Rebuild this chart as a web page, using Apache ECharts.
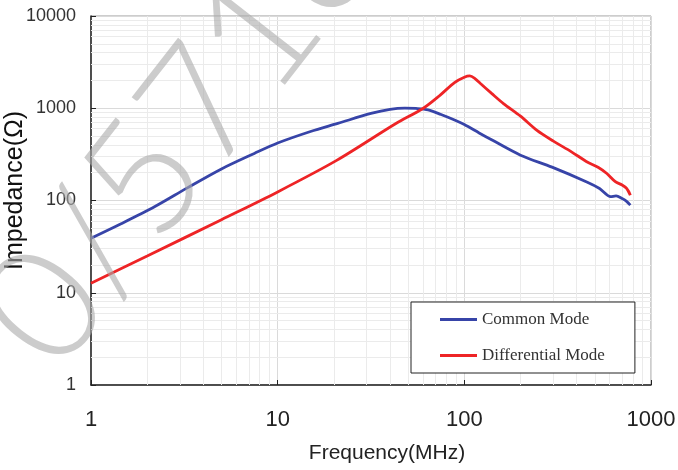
<!DOCTYPE html>
<html>
<head>
<meta charset="utf-8">
<script src="https://cdn.jsdelivr.net/npm/echarts@6/dist/echarts.min.js"></script>
<style>
  html, body { margin: 0; padding: 0; background: #fff; }
  #chart { width: 678px; height: 470px; }
</style>
</head>
<body>
<div id="chart"></div>
<script>
// frequency (MHz) / impedance (ohm)
const commonMode = [
  [1, 39], [1.45, 56], [2.2, 86], [3.3, 138], [5, 220], [7.5, 324], [10, 420],
  [15, 560], [21, 685], [31.6, 878], [40, 975], [48, 1005], [55, 995], [64, 960],
  [75, 855], [88, 750], [100, 665], [120, 540], [140, 455], [200, 310], [295, 230],
  [456, 158], [530, 135], [608, 110], [650, 112], [700, 105], [740, 98], [775, 89]
];
const diffMode = [
  [1, 12.7], [2, 25], [5, 62], [10, 124], [20.7, 272], [43, 683], [60, 994],
  [74, 1380], [88.6, 1900], [100, 2170], [107, 2240], [114, 2100], [122, 1853],
  [140, 1450], [162, 1125], [200, 820], [244, 579], [300, 440], [375, 337],
  [450, 265], [523, 228], [580, 196], [644, 160], [700, 147], [740, 135], [775, 114]
];
const xTickLabels = ['1', '10', '100', '1000'];
const yTickLabels = ['1', '10', '100', '1000', '10000'];
const minorX = [2, 3, 4, 5, 6, 7, 8, 9, 20, 30, 40, 50, 60, 70, 80, 90, 200, 300, 400, 500, 600, 700, 800, 900];
const minorY = [2, 3, 4, 5, 6, 7, 8, 9, 20, 30, 40, 50, 60, 70, 80, 90, 200, 300, 400, 500, 600, 700, 800, 900,
  2000, 3000, 4000, 5000, 6000, 7000, 8000, 9000];

const font = "'Liberation Sans', Arial, sans-serif";
const wmAngle = 52 * Math.PI / 180;
const mychart = echarts.init(document.getElementById('chart'));
mychart.setOption({
  animation: false,
  backgroundColor: '#fff',
  graphic: [
    {
      type: 'text', x: 17, y: 344, rotation: wmAngle, z: 100, silent: true,
      style: { text: '0/5716', fill: 'rgba(170,170,170,0.6)', font: '300 160px Lato, ' + font, textVerticalAlign: 'middle' }
    }
  ],
  grid: {
    left: 91, top: 16, right: 27, bottom: 85,
    outerBoundsMode: 'none',
    show: true, borderColor: '#9a9a9a', borderWidth: 1
  },
  legend: {
    data: ['Common Mode', 'Differential Mode'],
    orient: 'vertical',
    left: 411, top: 302, z: 10,
    backgroundColor: '#fff',
    borderColor: '#222', borderWidth: 1,
    padding: [9, 30, 9, 29],
    itemWidth: 37, itemHeight: 3, itemGap: 19,
    icon: 'rect',
    textStyle: { fontFamily: "'Liberation Serif', 'Times New Roman', serif", fontSize: 17, color: '#333' }
  },
  xAxis: {
    type: 'log', logBase: 10, min: 1, max: 1000,
    name: 'Frequency(MHz)', nameLocation: 'middle', nameGap: 58,
    nameTextStyle: { fontFamily: font, fontSize: 21, color: '#222', padding: [0, 0, 0, 32] },
    axisLine: { lineStyle: { color: '#222', width: 1.5 } },
    axisTick: { inside: true, length: 5, lineStyle: { color: '#222' } },
    axisLabel: {
      margin: 24, fontFamily: font, fontSize: 22, color: '#222',
      formatter: v => xTickLabels[Math.round(Math.log10(v))]
    },
    splitLine: { show: true, lineStyle: { color: '#dadada' } }
  },
  yAxis: {
    type: 'log', logBase: 10, min: 1, max: 10000,
    name: 'Impedance(Ω)', nameLocation: 'middle', nameGap: 63, nameMoveOverlap: false,
    nameTextStyle: { fontFamily: font, fontSize: 25, color: '#111', padding: [0, 0, 0, 20] },
    axisLine: { show: true, lineStyle: { color: '#222', width: 1.5 } },
    axisTick: { show: true, inside: true, length: 5, lineStyle: { color: '#222' } },
    axisLabel: {
      margin: 15, fontFamily: font, fontSize: 18, color: '#333',
      formatter: v => yTickLabels[Math.round(Math.log10(v))]
    },
    splitLine: { show: true, lineStyle: { color: '#dadada' } }
  },
  series: [
    {
      name: 'minor grid', type: 'line', data: [], silent: true, z: 1,
      markLine: {
        silent: true, symbol: ['none', 'none'], animation: false, z: 1,
        label: { show: false },
        lineStyle: { color: '#ebebeb', width: 1, type: 'solid' },
        data: minorX.map(v => ({ xAxis: v })).concat(minorY.map(v => ({ yAxis: v })))
      }
    },
    {
      name: 'Common Mode', type: 'line', data: commonMode, smooth: 0.3,
      showSymbol: false, z: 3,
      lineStyle: { color: '#3744a8', width: 2.8 }, itemStyle: { color: '#3744a8' }
    },
    {
      name: 'Differential Mode', type: 'line', data: diffMode, smooth: 0.3,
      showSymbol: false, z: 3,
      lineStyle: { color: '#ee2426', width: 2.8 }, itemStyle: { color: '#ee2426' }
    }
  ]
});
window.addEventListener('resize', function () {
  mychart.resize();
});
</script>
</body>
</html>
